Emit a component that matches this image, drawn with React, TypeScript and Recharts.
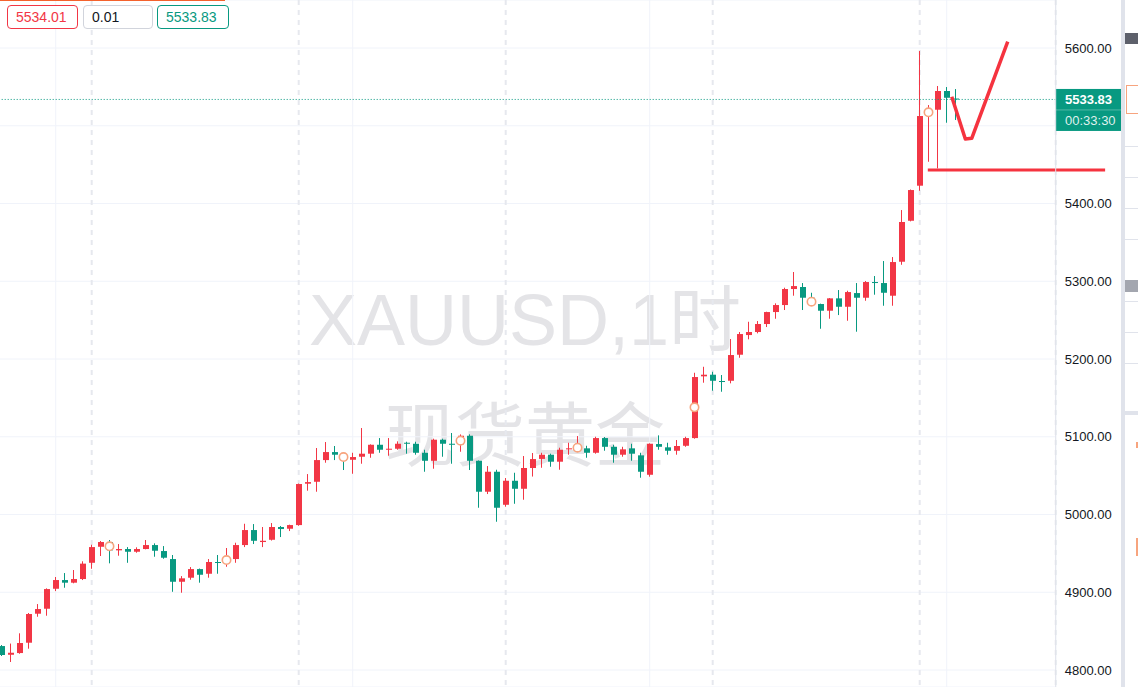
import {
  ComposedChart,
  Bar,
  Line,
  XAxis,
  YAxis,
  CartesianGrid,
  ReferenceLine,
} from "recharts"

const RED = "#f23645"
const GREEN = "#089981"
const FONT = "'Liberation Sans', Arial, 'Noto Sans CJK SC', sans-serif"

// hourly candles, oldest first
const opens = [
  4830.8, 4819.6, 4821.8, 4835.1, 4872.4, 4878.8, 4904.5, 4915.7, 4912.3, 4917.0,
  4937.9, 4958.5, 4964.6, 4953.9, 4955.6, 4952.1, 4955.6, 4960.7, 4953.0, 4942.7,
  4913.5, 4918.7, 4929.8, 4923.8, 4938.9, 4937.9, 4942.7, 4960.7, 4980.0, 4964.6,
  4967.5, 4983.9, 4981.7, 4986.4, 5039.6, 5042.1, 5070.0, 5080.3, 5076.9, 5070.4,
  5074.3, 5078.2, 5089.7, 5083.3, 5084.6, 5092.3, 5091.0, 5079.4, 5069.1, 5096.2,
  5091.0, 5090.2, 5101.3, 5069.1, 5029.3, 5055.0, 5012.5, 5043.4, 5033.1, 5059.8,
  5071.5, 5076.9, 5067.9, 5083.8, 5084.6, 5085.1, 5079.4, 5098.3, 5087.1, 5076.9,
  5085.1, 5076.1, 5051.1, 5090.6, 5086.4, 5082.0, 5088.4, 5098.3, 5177.7, 5179.8,
  5171.7, 5172.0, 5205.5, 5230.8, 5234.7, 5245.0, 5260.4, 5269.4, 5290.0, 5292.6,
  5278.8, 5270.7, 5262.1, 5278.0, 5267.2, 5284.8, 5278.8, 5299.0, 5297.7, 5281.4,
  5325.1, 5377.8, 5422.9, 5512.5, 5520.6, 5544.7, 5535.0,
]
const highs = [
  4832.1, 4834.0, 4847.2, 4873.3, 4884.8, 4905.0, 4919.6, 4924.7, 4928.6, 4939.8,
  4961.1, 4965.9, 4967.2, 4962.0, 4958.1, 4957.8, 4967.2, 4962.9, 4959.4, 4947.9,
  4920.8, 4932.4, 4930.5, 4942.7, 4947.9, 4956.9, 4963.7, 4988.1, 4987.7, 4983.9,
  4989.0, 4985.2, 4986.9, 5039.8, 5052.0, 5085.5, 5093.2, 5088.1, 5079.1, 5079.4,
  5111.2, 5090.2, 5098.3, 5098.3, 5094.1, 5093.6, 5093.6, 5083.3, 5097.5, 5097.5,
  5104.8, 5103.0, 5103.1, 5069.5, 5062.3, 5057.6, 5046.9, 5053.7, 5075.2, 5079.1,
  5079.4, 5078.2, 5085.9, 5092.3, 5100.9, 5088.4, 5100.0, 5099.6, 5089.7, 5087.1,
  5091.0, 5079.4, 5091.5, 5101.8, 5092.3, 5095.8, 5100.0, 5182.3, 5190.0, 5183.6,
  5179.4, 5225.7, 5234.7, 5247.9, 5248.8, 5260.8, 5271.6, 5291.7, 5311.9, 5297.7,
  5285.2, 5271.2, 5278.4, 5288.7, 5287.8, 5297.7, 5300.3, 5306.7, 5326.0, 5331.1,
  5391.6, 5418.0, 5596.1, 5526.6, 5551.1, 5549.8, 5547.2,
]
const lows = [
  4818.0, 4810.3, 4820.9, 4827.4, 4868.5, 4869.8, 4901.5, 4905.8, 4911.5, 4915.7,
  4930.2, 4946.6, 4937.2, 4947.0, 4937.9, 4950.8, 4955.2, 4945.7, 4943.1, 4900.6,
  4899.4, 4916.1, 4912.3, 4918.7, 4923.8, 4932.8, 4937.9, 4958.1, 4962.0, 4958.1,
  4966.5, 4971.0, 4978.7, 4985.5, 5030.6, 5029.3, 5066.6, 5070.0, 5057.2, 5052.4,
  5065.3, 5073.0, 5079.4, 5075.6, 5083.3, 5078.2, 5076.9, 5055.0, 5058.9, 5074.3,
  5065.3, 5080.7, 5057.2, 5008.7, 5026.3, 4990.7, 5010.0, 5013.8, 5019.0, 5048.8,
  5060.1, 5061.4, 5057.6, 5076.9, 5080.3, 5073.0, 5078.2, 5082.0, 5066.6, 5074.3,
  5069.1, 5047.3, 5048.6, 5083.3, 5076.9, 5076.9, 5087.1, 5097.5, 5169.5, 5159.2,
  5157.9, 5168.7, 5201.6, 5225.3, 5233.0, 5241.1, 5251.8, 5263.0, 5281.4, 5263.0,
  5269.4, 5238.9, 5251.8, 5256.5, 5249.2, 5235.1, 5274.9, 5282.7, 5268.5, 5268.5,
  5321.2, 5377.0, 5416.4, 5453.7, 5445.2, 5503.9, 5507.4,
]
const closes = [
  4819.3, 4822.2, 4834.7, 4872.0, 4878.4, 4904.1, 4915.7, 4912.3, 4917.0, 4936.8,
  4958.1, 4964.6, 4953.9, 4955.6, 4952.1, 4955.6, 4960.7, 4953.4, 4944.4, 4913.5,
  4917.9, 4929.8, 4922.5, 4938.9, 4937.9, 4942.7, 4960.7, 4980.0, 4966.2, 4966.2,
  4983.9, 4981.3, 4986.4, 5039.2, 5041.7, 5070.0, 5080.3, 5076.9, 5070.0, 5073.9,
  5078.2, 5089.7, 5083.3, 5084.6, 5091.0, 5091.0, 5079.4, 5069.1, 5096.2, 5091.0,
  5090.2, 5101.3, 5069.1, 5029.3, 5055.0, 5008.7, 5043.4, 5033.1, 5059.8, 5071.3,
  5076.9, 5067.9, 5083.3, 5085.1, 5088.1, 5079.4, 5098.3, 5087.1, 5076.9, 5083.8,
  5078.2, 5055.0, 5091.0, 5087.1, 5082.0, 5088.1, 5098.3, 5176.8, 5179.8, 5172.0,
  5170.4, 5205.1, 5232.1, 5234.7, 5245.0, 5260.4, 5269.4, 5290.0, 5293.8, 5278.8,
  5270.7, 5262.1, 5278.0, 5267.2, 5286.1, 5278.8, 5299.0, 5298.1, 5285.2, 5324.7,
  5376.2, 5417.3, 5512.5, 5520.6, 5544.7, 5536.0, 5533.83,
]

// hollow event markers drawn on some candles
const markIdx = [12, 25, 38, 51, 64, 77, 90, 103]
const markPrices = [4959.1, 4941.4, 5073.9, 5094.9, 5085.9, 5137.8, 5273.7, 5517.3]

const yTicks = [4800, 4900, 5000, 5100, 5200, 5300, 5400, 5500, 5600]
const solidDays = [6, 39, 72, 105]
const dashedDays = [10, 33, 56, 79, 102]

const lastPrice = 5533.83
const countdown = "00:33:30"
const askText = "5534.01"
const spreadText = "0.01"
const bidText = "5533.83"

// hand drawn annotations (bar index, price)
const tickMark = [
  { i: 105.56, p: 5537.4 },
  { i: 107.07, p: 5482.9 },
  { i: 107.78, p: 5483.9 },
  { i: 111.78, p: 5608.1 },
]
const supportPrice = 5443.1
const supportFrom = 102.9
const supportTo = 122.6

const rows = opens.map((o, i) => {
  const m = markIdx.indexOf(i)
  return {
    i,
    o,
    h: highs[i],
    l: lows[i],
    c: closes[i],
    range: [lows[i], highs[i]],
    mark: m >= 0 ? markPrices[m] : null,
  }
})

function Candle(props: any) {
  const { x, y, width, height, payload } = props
  if (x == null || y == null || !payload) return null
  const { o, h, l, c, mark } = payload
  const top = Math.min(y, y + height)
  const span = Math.abs(height)
  const py = (v: number) => top + ((h - v) / (h - l)) * span
  const cx = x + width / 2
  const left = Math.round(cx - 3)
  const color = c >= o ? RED : GREEN
  const bTop = py(Math.max(o, c))
  const bBot = py(Math.min(o, c))
  return (
    <g>
      <line x1={left + 2.5} x2={left + 2.5} y1={top} y2={top + span} stroke={color} strokeWidth={1} />
      <rect x={left} y={bTop} width={6} height={Math.max(1, bBot - bTop)} fill={color} />
      {mark != null && (
        <circle cx={left + 2.5} cy={py(mark)} r={4.2} fill="#ffffff" stroke="#f7a47e" strokeWidth={1.6} />
      )}
    </g>
  )
}

function PriceTick(props: any) {
  const { x, y, payload } = props
  if (Math.abs(payload.value - lastPrice) < 50) return null
  return (
    <text x={x} y={y} dy={4.5} textAnchor="start" fill="#131722" fontSize={13} fontFamily={FONT}>
      {payload.value.toFixed(2)}
    </text>
  )
}

function PriceTag(props: any) {
  const vb = props.viewBox
  if (!vb) return null
  const x = vb.x + vb.width
  const y = vb.y
  return (
    <g fontFamily={FONT}>
      <rect x={x} y={y - 10.5} width={65.5} height={42} fill={GREEN} />
      <line x1={x} x2={x + 65.5} y1={y + 10.5} y2={y + 10.5} stroke="rgba(255,255,255,0.3)" />
      <text x={x + 9.3} y={y + 5} fill="#ffffff" fontSize={13} fontWeight={700}>
        {lastPrice.toFixed(2)}
      </text>
      <text x={x + 9.3} y={y + 26} fill="rgba(255,255,255,0.88)" fontSize={13}>
        {countdown}
      </text>
    </g>
  )
}

const boxStyle = {
  position: "absolute" as const,
  top: 5,
  height: 24,
  boxSizing: "border-box" as const,
  borderRadius: 4,
  background: "#ffffff",
  fontSize: 14,
  lineHeight: "22px",
  paddingLeft: 8,
  fontFamily: FONT,
}

export default function App() {
  return (
    <div
      style={{
        position: "absolute",
        left: 0,
        top: 0,
        width: 1138,
        height: 687,
        overflow: "hidden",
        background: "#ffffff",
      }}
    >
      <svg width={1138} height={687} style={{ position: "absolute", left: 0, top: 0 }}>
        <g fill="#e4e4e7" textAnchor="middle" fontFamily={FONT}>
          <text x={525} y={345} fontSize={72}>XAUUSD,1时</text>
          <text x={525} y={461} fontSize={70} fontFamily="'Noto Sans CJK SC', sans-serif">现货黄金</text>
        </g>
      </svg>

      <div style={{ position: "absolute", left: 0, top: 0 }}>
        <ComposedChart
          width={1138}
          height={687}
          data={rows}
          margin={{ top: 0, right: 0, bottom: 0, left: -2.8 }}
        >
          <XAxis
            xAxisId={0}
            dataKey="i"
            type="number"
            domain={[-0.5, 117.11]}
            allowDataOverflow
            ticks={solidDays}
            hide
          />
          <XAxis
            xAxisId="dash"
            dataKey="i"
            type="number"
            domain={[-0.5, 117.11]}
            allowDataOverflow
            ticks={dashedDays}
            hide
          />
          <YAxis
            dataKey="p"
            orientation="right"
            width={82.3}
            type="number"
            domain={[4778.14, 5661.74]}
            allowDataOverflow
            ticks={yTicks}
            interval={0}
            axisLine={{ stroke: "#e0e3eb" }}
            tickLine={false}
            tickSize={0}
            tickMargin={9}
            tick={<PriceTick />}
          />
          <CartesianGrid xAxisId={0} stroke="#f0f3fa" />
          <CartesianGrid
            xAxisId="dash"
            horizontal={false}
            stroke="#e6e8ee"
            strokeWidth={2}
            strokeDasharray="5 5"
          />
          <ReferenceLine
            y={lastPrice}
            stroke={GREEN}
            strokeDasharray="1 2"
            label={<PriceTag />}
          />
          <Bar dataKey="range" barSize={6} shape={(p: any) => <Candle {...p} />} isAnimationActive={false} />
          <Line
            data={tickMark}
            dataKey="p"
            type="linear"
            stroke="#f5333f"
            strokeWidth={3.5}
            strokeLinejoin="round"
            dot={false}
            activeDot={false}
            isAnimationActive={false}
          />
          <ReferenceLine
            segment={[
              { x: supportFrom, y: supportPrice },
              { x: supportTo, y: supportPrice },
            ]}
            ifOverflow="visible"
            stroke="#f5333f"
            strokeWidth={3}
          />
        </ComposedChart>
      </div>

      <div style={{ position: "absolute", left: 0, top: 0, width: 225, height: 1, background: "#f4622d" }} />
      <div style={{ ...boxStyle, left: 7, width: 71, border: `1px solid ${RED}`, color: RED }}>{askText}</div>
      <div style={{ ...boxStyle, left: 83, width: 70, border: "1px solid #d1d4dc", color: "#131722" }}>{spreadText}</div>
      <div style={{ ...boxStyle, left: 157, width: 72, border: `1px solid ${GREEN}`, color: GREEN }}>{bidText}</div>

      <div style={{ position: "absolute", left: 1121, top: 0, width: 4, height: 687, background: "#e0e3eb" }} />
      <div style={{ position: "absolute", left: 1125, top: 33, width: 16, height: 11, background: "#5d606b" }} />
      <div style={{ position: "absolute", left: 1126, top: 85, width: 16, height: 29, border: "1.5px solid #f7a47e", boxSizing: "border-box" }} />
      {[146, 177, 208, 239, 301, 332, 363].map((t) => (
        <div key={t} style={{ position: "absolute", left: 1125, top: t, width: 13, height: 1, background: "#e0e3eb" }} />
      ))}
      <div style={{ position: "absolute", left: 1125, top: 280, width: 16, height: 12, background: "#a3a6af" }} />
      <div style={{ position: "absolute", left: 1125, top: 411, width: 13, height: 4, background: "#e0e3eb" }} />
      <div style={{ position: "absolute", left: 1136, top: 442, width: 2, height: 6, background: "#f7a47e" }} />
      <div style={{ position: "absolute", left: 1136, top: 538, width: 2, height: 18, background: "#f7a47e" }} />
    </div>
  )
}
